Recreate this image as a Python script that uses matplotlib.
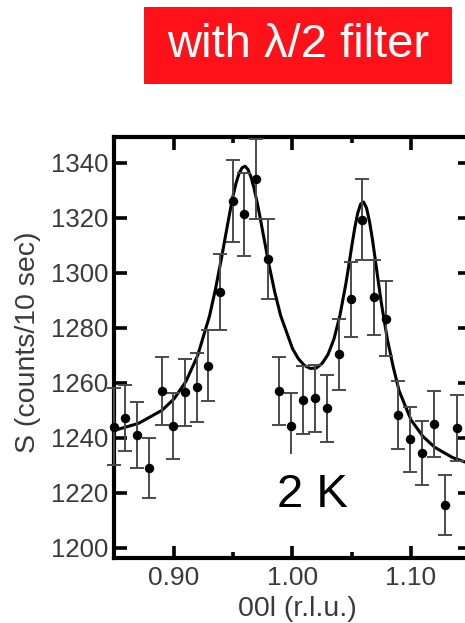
import numpy as np
import matplotlib
matplotlib.use('Agg')
import matplotlib.pyplot as plt
from matplotlib.patches import Rectangle

plt.rcParams['font.family'] = ['Liberation Sans', 'DejaVu Sans']

# ---- measured points (00l scan, 2 K, with lambda/2 filter) ----
q_pts = [0.849, 0.859, 0.869, 0.879, 0.890, 0.899, 0.909, 0.919, 0.929, 0.939,
         0.9495, 0.959, 0.969, 0.979, 0.989, 0.999, 1.009, 1.019, 1.029, 1.039,
         1.049, 1.059, 1.069, 1.079, 1.089, 1.099, 1.109, 1.119, 1.129, 1.139]
counts = [1244, 1247, 1241, 1229, 1257, 1244.4, 1256.5, 1258.3, 1266.2, 1292.9,
          1326.1, 1321.2, 1334.1, 1305, 1257, 1244.4, 1253.7, 1254.3, 1250.7, 1270.3,
          1290.3, 1319.2, 1291, 1283.3, 1248.3, 1239.4, 1234.3, 1245, 1215.5, 1243.6]
err = [14, 12, 12, 11, 12.4, 12, 12.2, 12.6, 12.9, 13.9,
       15, 15, 14.7, 14.4, 12.4, 12, 12.4, 12.2, 12.2, 12.9,
       13.7, 14.7, 13.8, 13.6, 12.4, 11.8, 11.6, 11.9, 10.8, 12]

# ---- fit curve ----
fit_q = [0.85, 0.87, 0.89, 0.90, 0.91, 0.92, 0.93, 0.935, 0.94, 0.945,
         0.9475, 0.95, 0.9525, 0.955, 0.9575, 0.96, 0.9625, 0.965, 0.9675, 0.97,
         0.9725, 0.975, 0.98, 0.985, 0.99, 1.00, 1.005, 1.01, 1.015, 1.02,
         1.025, 1.03, 1.035, 1.04, 1.045, 1.0475, 1.05, 1.0525, 1.055, 1.0575,
         1.06, 1.0625, 1.065, 1.0675, 1.07, 1.0725, 1.075, 1.08, 1.085, 1.09,
         1.10, 1.11, 1.12, 1.135, 1.15]
fit_s = [1242.7, 1245.2, 1250.0, 1254.1, 1260.4, 1269.9, 1284.3, 1294.0, 1305.1, 1317.0,
         1322.8, 1328.3, 1332.8, 1336.2, 1338.2, 1338.7, 1337.5, 1334.8, 1330.8, 1325.9,
         1320.5, 1314.7, 1303.2, 1293.0, 1284.4, 1272.4, 1268.7, 1266.3, 1265.2, 1265.3,
         1267.0, 1270.3, 1275.9, 1284.4, 1295.9, 1302.6, 1309.6, 1316.2, 1321.6, 1325.0,
         1325.7, 1323.5, 1318.6, 1312.0, 1304.3, 1296.5, 1288.9, 1275.9, 1265.7, 1257.0,
         1246.5, 1240.5, 1236.5, 1232.8, 1230.5]

xticks = [0.90, 1.00, 1.10]
xtick_labels = ['0.90', '1.00', '1.10']
xminor = [0.95, 1.05]
yticks = [1200, 1220, 1240, 1260, 1280, 1300, 1320, 1340]

grey = '#3a3a3a'

fig = plt.figure(figsize=(4.65, 6.23), dpi=100)
# axes runs slightly past the right edge, like the cropped original
ax = fig.add_axes([0.2452, 0.1043, 0.7656, 0.6758])

ax.plot(fit_q, fit_s, color='black', lw=2.2, zorder=3, solid_joinstyle='round')
eb = ax.errorbar(q_pts, counts, yerr=err, fmt='o', color='black', ms=5.8,
                 ecolor='#4a4a4a', elinewidth=1.4, capsize=5, capthick=1.4, zorder=4)
for art in eb.lines[1] + eb.lines[2]:
    art.set_clip_on(False)
eb.lines[0].set_clip_on(False)

ax.set_xlim(0.8494, 1.1498)
ax.set_ylim(1196.25, 1349.35)

ax.set_xticks(xticks)
ax.set_xticklabels(xtick_labels)
ax.set_xticks(xminor, minor=True)
ax.set_yticks(yticks)

for s in ax.spines.values():
    s.set_linewidth(3)
ax.tick_params(which='both', direction='in', top=True, right=True, width=2.6,
               colors='black', labelcolor=grey)
ax.tick_params(which='major', length=9)
ax.tick_params(which='minor', length=4.5)
ax.tick_params(axis='y', labelsize=18.5, pad=4)
ax.tick_params(axis='x', labelsize=19, pad=6)

ax.set_xlabel('00l (r.l.u.)', fontsize=20.5, color=grey)
ax.set_ylabel('S (counts/10 sec)', fontsize=20.5, color=grey)
ax.xaxis.set_label_coords(0.514, -0.122)
ax.xaxis.label.set_verticalalignment('center')
ax.yaxis.set_label_coords(-0.2416, 0.512)
ax.yaxis.label.set_verticalalignment('center')

ax.text(1.0165, 1219.2, '2 K', fontsize=34, ha='center', va='center', color='black',
        zorder=6, bbox=dict(facecolor='white', edgecolor='none', pad=14))

# red banner above the panel
fig.patches.append(Rectangle((0.3097, 0.8657), 0.6624, 0.1236, transform=fig.transFigure,
                             facecolor='#fe1119', edgecolor='none'))
fig.text(0.641, 0.9274, 'with λ/2 filter', fontsize=34, color='white',
         ha='center', va='center')

fig.savefig('out.png', dpi=100)
